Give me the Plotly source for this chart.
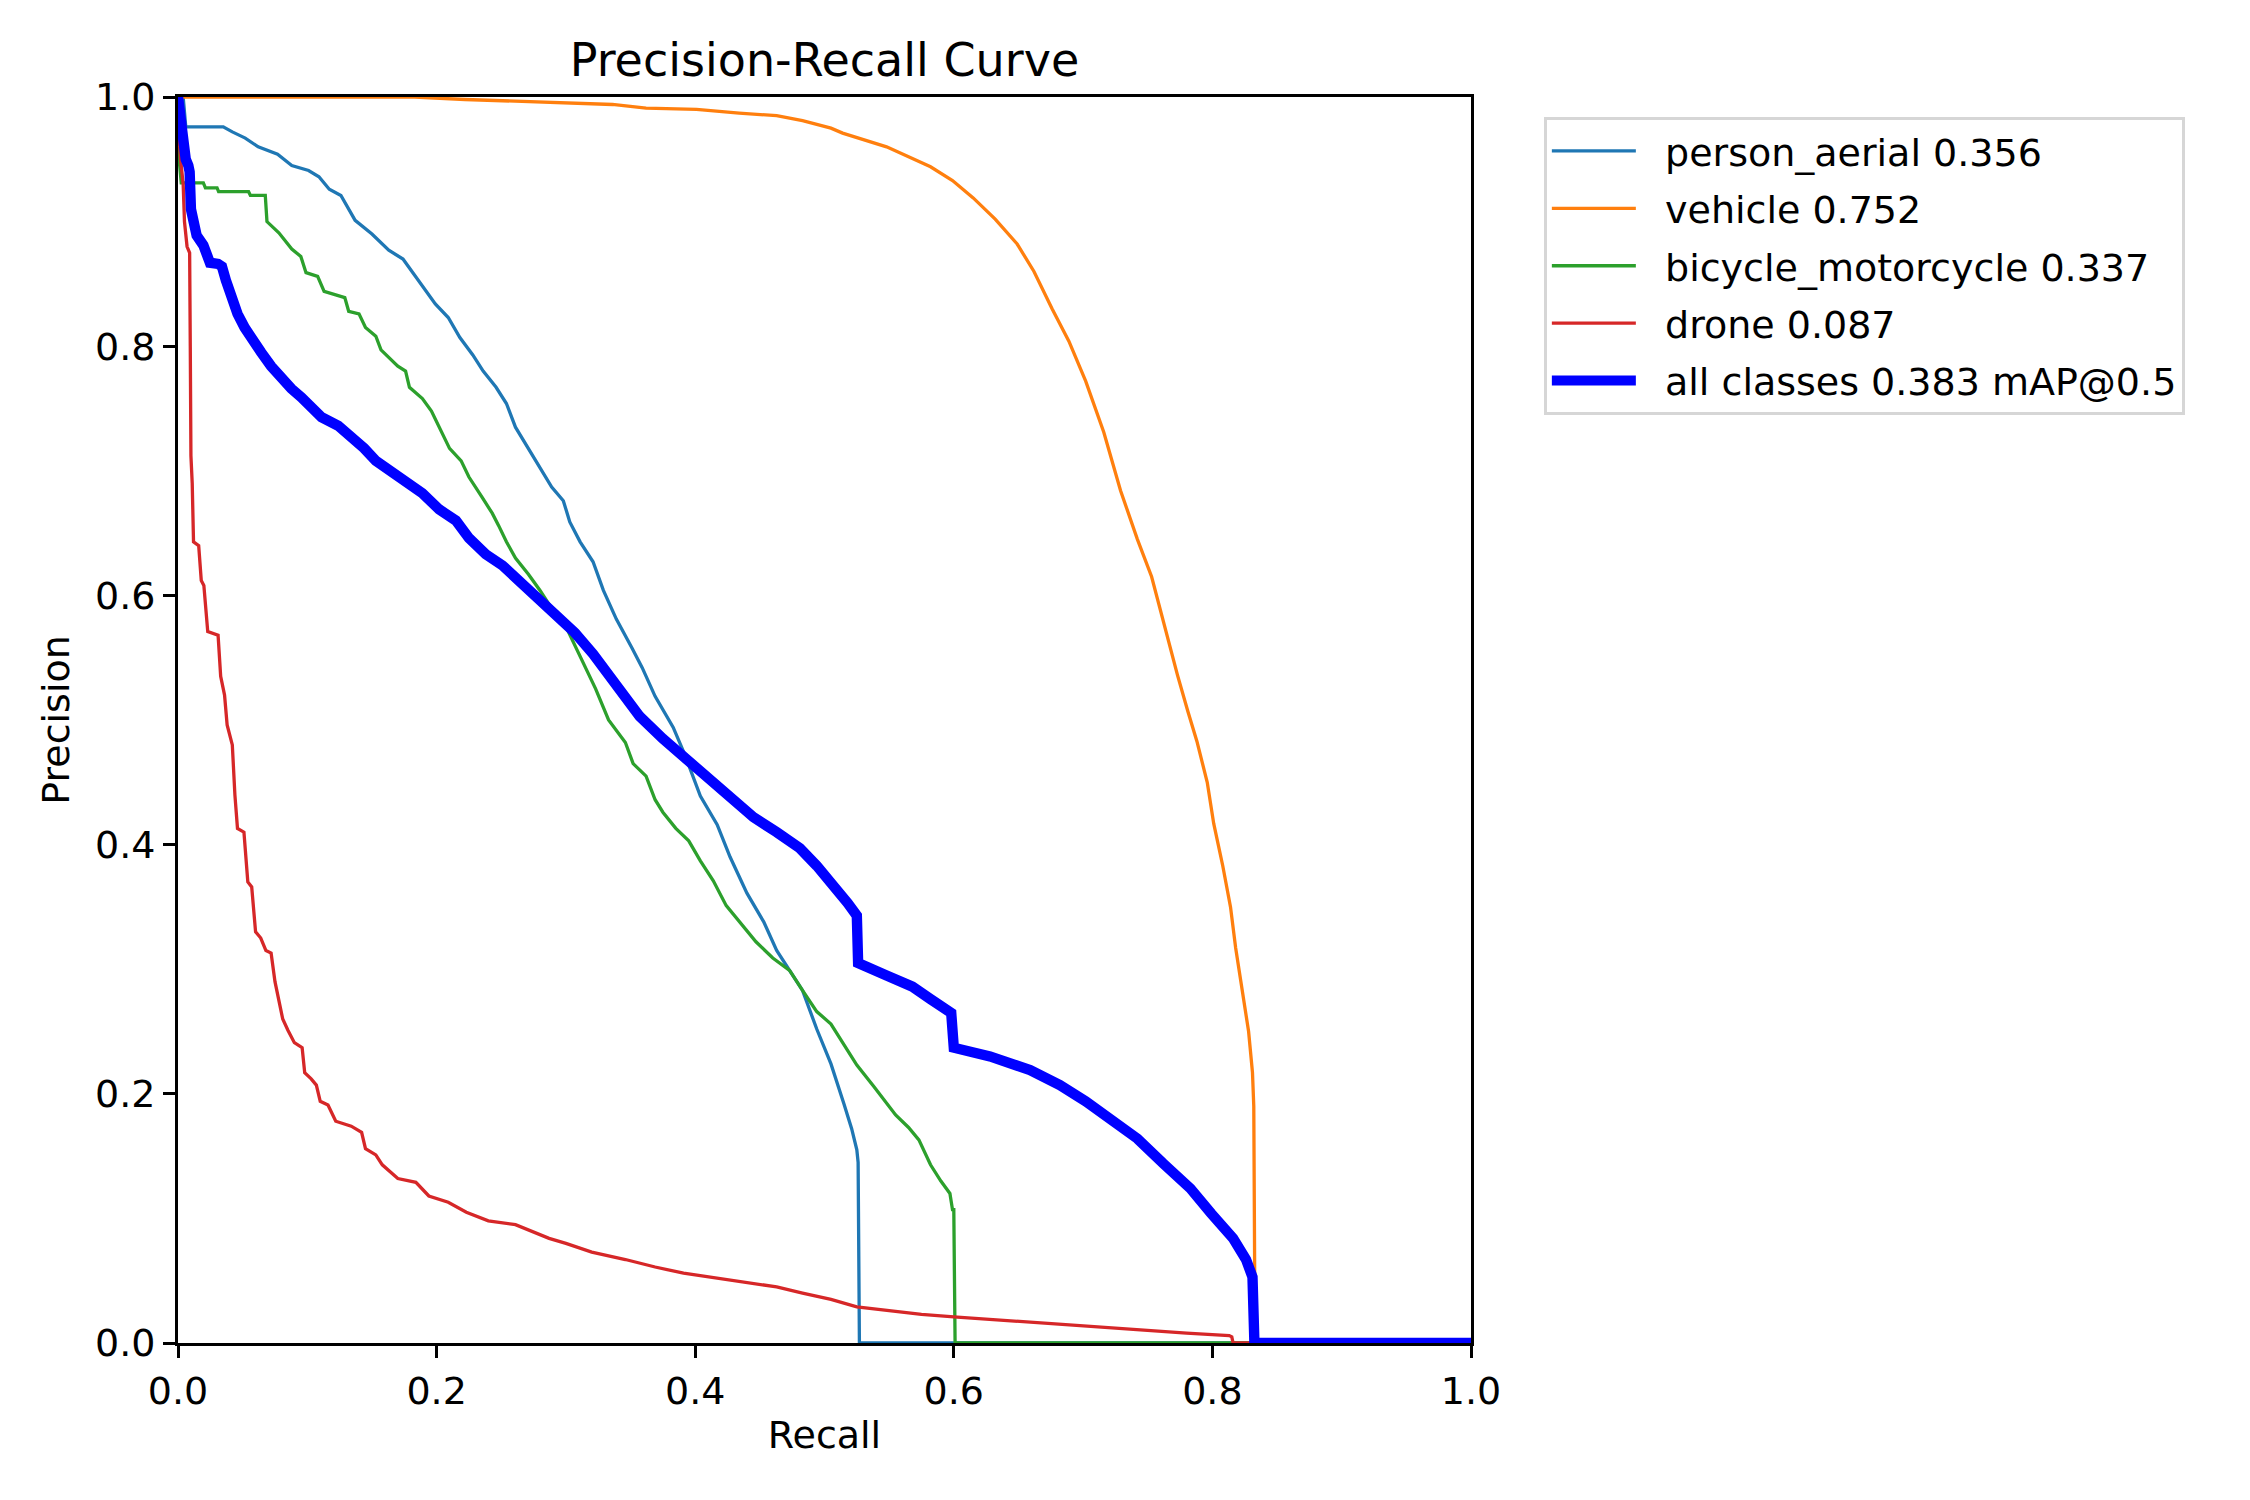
import plotly.graph_objects as go

# ---------------- data ----------------
class_names = ["person_aerial 0.356", "vehicle 0.752", "bicycle_motorcycle 0.337",
               "drone 0.087", "all classes 0.383 mAP@0.5"]

person_r = [0, 0.004, 0.006, 0.035, 0.042, 0.052, 0.062, 0.077, 0.088, 0.101, 0.109, 0.117,
            0.126, 0.137, 0.150, 0.163, 0.174, 0.189, 0.199, 0.209, 0.218, 0.228, 0.236, 0.246,
            0.254, 0.261, 0.271, 0.280, 0.289, 0.298, 0.303, 0.311, 0.321, 0.329, 0.339, 0.351,
            0.359, 0.369, 0.383, 0.392, 0.404, 0.417, 0.427, 0.440, 0.453, 0.463, 0.473, 0.483,
            0.494, 0.505, 0.515, 0.521, 0.525, 0.526, 0.527, 1.0]
person_p = [1.0, 1.0, 0.976, 0.976, 0.972, 0.967, 0.960, 0.954, 0.945, 0.941, 0.936, 0.926,
            0.921, 0.901, 0.890, 0.877, 0.870, 0.849, 0.834, 0.823, 0.807, 0.793, 0.780, 0.767,
            0.754, 0.735, 0.718, 0.702, 0.687, 0.676, 0.659, 0.643, 0.627, 0.604, 0.581, 0.558,
            0.542, 0.519, 0.494, 0.472, 0.439, 0.416, 0.390, 0.361, 0.338, 0.315, 0.299, 0.283,
            0.252, 0.224, 0.192, 0.172, 0.155, 0.145, 0.0, 0.0]

vehicle_r = [0, 0.183, 0.222, 0.287, 0.336, 0.362, 0.401, 0.434, 0.463, 0.483, 0.505, 0.514,
             0.548, 0.582, 0.599, 0.615, 0.632, 0.649, 0.662, 0.676, 0.689, 0.702, 0.716, 0.729,
             0.742, 0.753, 0.763, 0.773, 0.781, 0.788, 0.796, 0.801, 0.808, 0.814, 0.818, 0.823,
             0.828, 0.831, 0.832, 0.833, 1.0]
vehicle_p = [1.0, 1.0, 0.998, 0.996, 0.994, 0.991, 0.990, 0.987, 0.985, 0.981, 0.975, 0.971,
             0.960, 0.944, 0.933, 0.919, 0.902, 0.882, 0.860, 0.830, 0.804, 0.772, 0.731, 0.684,
             0.645, 0.615, 0.575, 0.536, 0.507, 0.483, 0.450, 0.417, 0.383, 0.350, 0.317, 0.283,
             0.250, 0.217, 0.19, 0.0, 0.0]

bicycle_r = [0, 0.0025, 0.0196, 0.0212, 0.0302, 0.0314, 0.0546, 0.056, 0.0675, 0.0688, 0.078,
             0.088, 0.095, 0.099, 0.108, 0.113, 0.129, 0.132, 0.140, 0.145, 0.153, 0.157, 0.170,
             0.176, 0.179, 0.189, 0.196, 0.202, 0.210, 0.219, 0.225, 0.235, 0.243, 0.248, 0.254,
             0.261, 0.271, 0.280, 0.290, 0.300, 0.308, 0.315, 0.323, 0.333, 0.346, 0.352, 0.362,
             0.369, 0.375, 0.385, 0.395, 0.404, 0.414, 0.424, 0.434, 0.447, 0.460, 0.473, 0.483,
             0.494, 0.505, 0.515, 0.525, 0.538, 0.548, 0.555, 0.565, 0.573, 0.582, 0.590, 0.597,
             0.599, 0.600, 0.601, 1.0]
bicycle_p = [0.96, 0.931, 0.931, 0.927, 0.927, 0.924, 0.924, 0.921, 0.921, 0.90, 0.891,
             0.878, 0.872, 0.859, 0.856, 0.844, 0.839, 0.828, 0.826, 0.815, 0.808, 0.797, 0.784,
             0.780, 0.767, 0.758, 0.748, 0.735, 0.718, 0.708, 0.695, 0.679, 0.666, 0.656, 0.643,
             0.630, 0.617, 0.604, 0.588, 0.575, 0.558, 0.542, 0.525, 0.500, 0.482, 0.465, 0.455,
             0.436, 0.426, 0.413, 0.403, 0.387, 0.371, 0.351, 0.338, 0.322, 0.309, 0.299, 0.283,
             0.266, 0.256, 0.240, 0.223, 0.206, 0.193, 0.183, 0.173, 0.163, 0.143, 0.130, 0.120,
             0.107, 0.107, 0.0, 0.0]

drone_r = [0, 0.002, 0.004, 0.005, 0.007, 0.009, 0.0095, 0.010, 0.011, 0.012, 0.016, 0.018,
           0.020, 0.023, 0.031, 0.033, 0.036, 0.038, 0.042, 0.044, 0.046, 0.051, 0.054, 0.057,
           0.060, 0.064, 0.068, 0.072, 0.075, 0.081, 0.085, 0.090, 0.096, 0.098, 0.103, 0.107,
           0.110, 0.116, 0.122, 0.134, 0.142, 0.145, 0.153, 0.158, 0.170, 0.184, 0.194, 0.209,
           0.223, 0.240, 0.261, 0.287, 0.300, 0.320, 0.346, 0.369, 0.391, 0.417, 0.437, 0.463,
           0.483, 0.505, 0.525, 0.550, 0.575, 0.600, 0.640, 0.682, 0.720, 0.749, 0.780, 0.813,
           0.815, 0.816, 1.0]
drone_p = [0.98, 0.95, 0.93, 0.90, 0.88, 0.875, 0.80, 0.712, 0.69, 0.643, 0.640, 0.612,
           0.608, 0.571, 0.568, 0.535, 0.520, 0.496, 0.480, 0.440, 0.413, 0.410, 0.370, 0.366,
           0.330, 0.325, 0.315, 0.313, 0.290, 0.260, 0.251, 0.241, 0.237, 0.217, 0.212, 0.207,
           0.194, 0.191, 0.178, 0.174, 0.169, 0.156, 0.151, 0.143, 0.132, 0.129, 0.118, 0.113,
           0.105, 0.098, 0.095, 0.084, 0.080, 0.073, 0.067, 0.061, 0.056, 0.052, 0.049, 0.045,
           0.040, 0.035, 0.029, 0.026, 0.023, 0.021, 0.018, 0.015, 0.012, 0.010, 0.008, 0.006,
           0.005, 0.0, 0.0]

all_r = [0, 0.002, 0.004, 0.006, 0.008, 0.009, 0.010, 0.012, 0.0144, 0.0196, 0.0247, 0.031,
         0.034, 0.037, 0.0412, 0.046, 0.0515, 0.0567, 0.0644, 0.072, 0.0799, 0.0876, 0.0954,
         0.103, 0.111, 0.124, 0.137, 0.144, 0.153, 0.166, 0.176, 0.189, 0.202, 0.215, 0.225,
         0.238, 0.251, 0.261, 0.271, 0.280, 0.294, 0.307, 0.321, 0.340, 0.357, 0.375, 0.392,
         0.410, 0.428, 0.445, 0.463, 0.481, 0.494, 0.508, 0.518, 0.525, 0.526, 0.548, 0.568,
         0.582, 0.598, 0.600, 0.628, 0.659, 0.682, 0.702, 0.722, 0.742, 0.762, 0.783, 0.799,
         0.816, 0.826, 0.831, 0.8325, 0.834, 1.0]
all_p = [1.0, 0.975, 0.96, 0.95, 0.945, 0.94, 0.91, 0.895, 0.889, 0.881, 0.867, 0.866,
         0.864, 0.853, 0.839, 0.826, 0.815, 0.806, 0.795, 0.784, 0.774, 0.766, 0.759,
         0.751, 0.743, 0.736, 0.725, 0.718, 0.708, 0.699, 0.692, 0.682, 0.669, 0.660, 0.646,
         0.633, 0.624, 0.614, 0.604, 0.596, 0.583, 0.570, 0.553, 0.525, 0.503, 0.485, 0.470,
         0.455, 0.437, 0.422, 0.410, 0.397, 0.383, 0.367, 0.353, 0.343, 0.305, 0.295, 0.286,
         0.276, 0.265, 0.237, 0.230, 0.219, 0.207, 0.194, 0.180, 0.164, 0.144, 0.124, 0.104,
         0.084, 0.067, 0.053, 0.0, 0.0, 0.0]

tick_vals = [0.0, 0.2, 0.4, 0.6, 0.8, 1.0]
tick_text = ["0.0", "0.2", "0.4", "0.6", "0.8", "1.0"]

# ---------------- figure ----------------
FONT = "DejaVu Sans"
FS = 38
series = [
    (person_r, person_p, "#1f77b4", 3.3),
    (vehicle_r, vehicle_p, "#ff7f0e", 3.3),
    (bicycle_r, bicycle_p, "#2ca02c", 3.3),
    (drone_r, drone_p, "#d62728", 3.3),
    (all_r, all_p, "#0000ff", 10.4),
]

fig = go.Figure()
for i, (rx, py, col, w) in enumerate(series):
    fig.add_trace(go.Scatter(
        x=rx, y=py, mode="lines", name="\u00a0\u00a0" + class_names[i],
        line=dict(color=col, width=w), legendgroup=f"g{i}",
    ))

axis_common = dict(
    range=[0, 1], tickvals=tick_vals, ticktext=tick_text,
    ticks="outside", ticklen=12, tickwidth=2.8, tickcolor="black",
    showline=True, mirror=True, linecolor="black", linewidth=2.8,
    showgrid=False, zeroline=False,
    tickfont=dict(family=FONT, size=FS, color="black"),
)

fig.update_layout(
    width=2250, height=1500,
    margin=dict(l=178, r=779, t=97, b=157, pad=0),
    paper_bgcolor="white", plot_bgcolor="white",
    font=dict(family=FONT, size=FS, color="black"),
    title=dict(text="Precision-Recall Curve", x=0.5, xref="paper", xanchor="center",
               y=1 - 60 / 1500, yref="container", yanchor="middle",
               font=dict(family=FONT, size=46, color="black")),
    xaxis=dict(**axis_common, title=dict(text="Recall", standoff=10,
                                         font=dict(family=FONT, size=FS, color="black"))),
    yaxis=dict(**axis_common, title=dict(text="Precision", standoff=14,
                                         font=dict(family=FONT, size=FS, color="black"))),
    legend=dict(x=1.0565, y=0.984, xanchor="left", yanchor="top",
                bgcolor="white", bordercolor="#d6d6d6", borderwidth=2.8,
                font=dict(family=FONT, size=FS, color="black"),
                tracegroupgap=5, itemwidth=84),
    showlegend=True,
)

fig.write_html("out.html")
